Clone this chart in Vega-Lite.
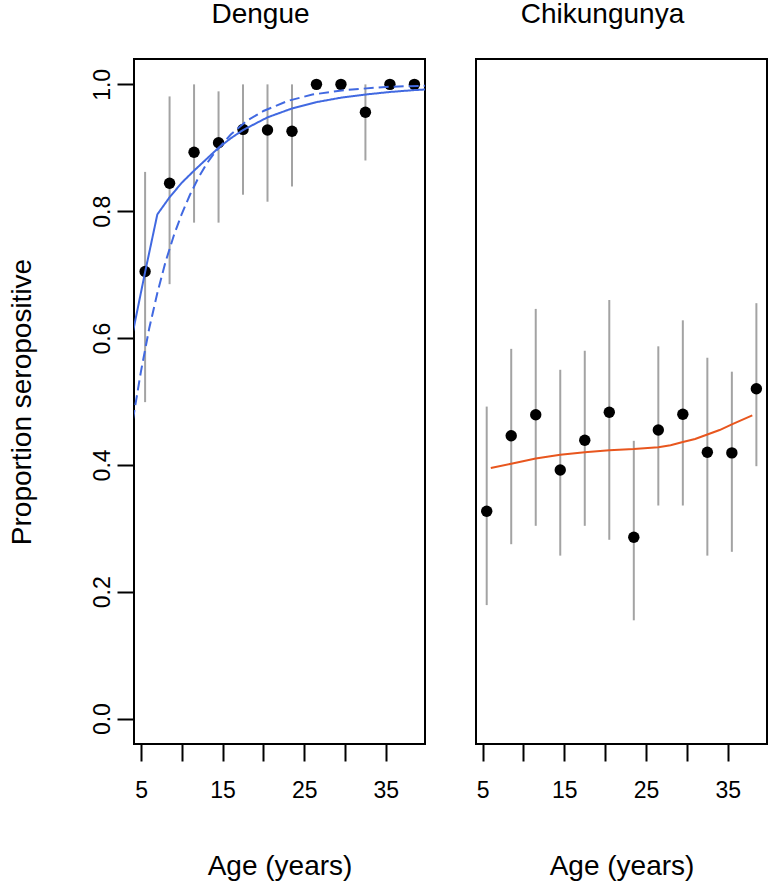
{
  "$schema": "https://vega.github.io/schema/vega-lite/v6.json",
  "padding": {"left": 7, "top": 0, "right": 0, "bottom": 2},
  "background": "white",
  "config": {
    "font": "Liberation Sans",
    "view": {"stroke": "black", "strokeWidth": 2},
    "axis": {
      "domain": false, "grid": false,
      "tickColor": "black", "tickWidth": 2, "tickSize": 17,
      "labelFont": "Liberation Sans", "labelFontSize": 23, "labelColor": "black",
      "titleFont": "Liberation Sans", "titleFontSize": 28, "titleFontWeight": "normal", "titleColor": "black"
    },
    "title": {"font": "Liberation Sans", "fontSize": 28, "fontWeight": "normal", "color": "black", "baseline": "alphabetic", "offset": 30, "dx": -19}
  },
  "spacing": 49,
  "datasets": {
    "obs": [
      {"panel": "Dengue", "age": 5.5, "p": 0.705, "lo": 0.499, "hi": 0.862},
      {"panel": "Dengue", "age": 8.5, "p": 0.844, "lo": 0.685, "hi": 0.981},
      {"panel": "Dengue", "age": 11.5, "p": 0.893, "lo": 0.782, "hi": 1.0},
      {"panel": "Dengue", "age": 14.5, "p": 0.908, "lo": 0.782, "hi": 0.989},
      {"panel": "Dengue", "age": 17.5, "p": 0.929, "lo": 0.826, "hi": 1.0},
      {"panel": "Dengue", "age": 20.5, "p": 0.928, "lo": 0.815, "hi": 1.0},
      {"panel": "Dengue", "age": 23.5, "p": 0.926, "lo": 0.839, "hi": 1.0},
      {"panel": "Dengue", "age": 26.5, "p": 1.0, "lo": null, "hi": null},
      {"panel": "Dengue", "age": 29.5, "p": 1.0, "lo": null, "hi": null},
      {"panel": "Dengue", "age": 32.5, "p": 0.956, "lo": 0.88, "hi": 1.0},
      {"panel": "Dengue", "age": 35.5, "p": 1.0, "lo": null, "hi": null},
      {"panel": "Dengue", "age": 38.5, "p": 1.0, "lo": null, "hi": null},
      {"panel": "Chikungunya", "age": 5.5, "p": 0.327, "lo": 0.179, "hi": 0.492},
      {"panel": "Chikungunya", "age": 8.5, "p": 0.446, "lo": 0.275, "hi": 0.583},
      {"panel": "Chikungunya", "age": 11.5, "p": 0.479, "lo": 0.304, "hi": 0.646},
      {"panel": "Chikungunya", "age": 14.5, "p": 0.392, "lo": 0.257, "hi": 0.55},
      {"panel": "Chikungunya", "age": 17.5, "p": 0.439, "lo": 0.304, "hi": 0.58},
      {"panel": "Chikungunya", "age": 20.5, "p": 0.483, "lo": 0.282, "hi": 0.66},
      {"panel": "Chikungunya", "age": 23.5, "p": 0.286, "lo": 0.155, "hi": 0.438},
      {"panel": "Chikungunya", "age": 26.5, "p": 0.455, "lo": 0.336, "hi": 0.587},
      {"panel": "Chikungunya", "age": 29.5, "p": 0.48, "lo": 0.336, "hi": 0.628},
      {"panel": "Chikungunya", "age": 32.5, "p": 0.42, "lo": 0.257, "hi": 0.569},
      {"panel": "Chikungunya", "age": 35.5, "p": 0.419, "lo": 0.263, "hi": 0.547},
      {"panel": "Chikungunya", "age": 38.5, "p": 0.52, "lo": 0.398, "hi": 0.655}
    ],
    "fit": [
      {"panel": "Dengue", "model": "solid", "age": 4, "y": 0.609},
      {"panel": "Dengue", "model": "solid", "age": 5.5, "y": 0.704},
      {"panel": "Dengue", "model": "solid", "age": 7, "y": 0.795},
      {"panel": "Dengue", "model": "solid", "age": 8.5, "y": 0.822},
      {"panel": "Dengue", "model": "solid", "age": 10, "y": 0.845},
      {"panel": "Dengue", "model": "solid", "age": 11.5, "y": 0.864},
      {"panel": "Dengue", "model": "solid", "age": 13, "y": 0.882},
      {"panel": "Dengue", "model": "solid", "age": 14.5, "y": 0.9},
      {"panel": "Dengue", "model": "solid", "age": 16, "y": 0.915},
      {"panel": "Dengue", "model": "solid", "age": 17.5, "y": 0.928},
      {"panel": "Dengue", "model": "solid", "age": 20.5, "y": 0.948},
      {"panel": "Dengue", "model": "solid", "age": 23.5, "y": 0.962},
      {"panel": "Dengue", "model": "solid", "age": 26.5, "y": 0.972},
      {"panel": "Dengue", "model": "solid", "age": 29.5, "y": 0.979},
      {"panel": "Dengue", "model": "solid", "age": 32.5, "y": 0.984},
      {"panel": "Dengue", "model": "solid", "age": 35.5, "y": 0.988},
      {"panel": "Dengue", "model": "solid", "age": 38.5, "y": 0.991},
      {"panel": "Dengue", "model": "solid", "age": 40, "y": 0.992},
      {"panel": "Dengue", "model": "dashed", "age": 4, "y": 0.471},
      {"panel": "Dengue", "model": "dashed", "age": 5, "y": 0.548},
      {"panel": "Dengue", "model": "dashed", "age": 6, "y": 0.615},
      {"panel": "Dengue", "model": "dashed", "age": 7, "y": 0.671},
      {"panel": "Dengue", "model": "dashed", "age": 8, "y": 0.72},
      {"panel": "Dengue", "model": "dashed", "age": 9, "y": 0.761},
      {"panel": "Dengue", "model": "dashed", "age": 10, "y": 0.796},
      {"panel": "Dengue", "model": "dashed", "age": 11, "y": 0.826},
      {"panel": "Dengue", "model": "dashed", "age": 12, "y": 0.852},
      {"panel": "Dengue", "model": "dashed", "age": 13, "y": 0.874},
      {"panel": "Dengue", "model": "dashed", "age": 14, "y": 0.892},
      {"panel": "Dengue", "model": "dashed", "age": 16, "y": 0.921},
      {"panel": "Dengue", "model": "dashed", "age": 18, "y": 0.943},
      {"panel": "Dengue", "model": "dashed", "age": 20, "y": 0.958},
      {"panel": "Dengue", "model": "dashed", "age": 23, "y": 0.974},
      {"panel": "Dengue", "model": "dashed", "age": 26, "y": 0.984},
      {"panel": "Dengue", "model": "dashed", "age": 30, "y": 0.991},
      {"panel": "Dengue", "model": "dashed", "age": 35, "y": 0.996},
      {"panel": "Dengue", "model": "dashed", "age": 40, "y": 0.998},
      {"panel": "Chikungunya", "model": "solid", "age": 6, "y": 0.395},
      {"panel": "Chikungunya", "model": "solid", "age": 8.5, "y": 0.402},
      {"panel": "Chikungunya", "model": "solid", "age": 11.5, "y": 0.41},
      {"panel": "Chikungunya", "model": "solid", "age": 14.5, "y": 0.416},
      {"panel": "Chikungunya", "model": "solid", "age": 17.5, "y": 0.42},
      {"panel": "Chikungunya", "model": "solid", "age": 20.5, "y": 0.423},
      {"panel": "Chikungunya", "model": "solid", "age": 23.5, "y": 0.425},
      {"panel": "Chikungunya", "model": "solid", "age": 26.5, "y": 0.428},
      {"panel": "Chikungunya", "model": "solid", "age": 28, "y": 0.431},
      {"panel": "Chikungunya", "model": "solid", "age": 29.5, "y": 0.436},
      {"panel": "Chikungunya", "model": "solid", "age": 31, "y": 0.441},
      {"panel": "Chikungunya", "model": "solid", "age": 32.5, "y": 0.448},
      {"panel": "Chikungunya", "model": "solid", "age": 34, "y": 0.455},
      {"panel": "Chikungunya", "model": "solid", "age": 35.5, "y": 0.464},
      {"panel": "Chikungunya", "model": "solid", "age": 38, "y": 0.478}
    ]
  },
  "hconcat": [
    {
      "title": "Dengue",
      "width": 291,
      "height": 685,
      "layer": [
        {
          "data": {"name": "obs"},
          "transform": [{"filter": "datum.panel == 'Dengue' && isValid(datum.lo)"}],
          "mark": {"type": "rule", "color": "#A3A3A3", "strokeWidth": 2},
          "encoding": {
            "x": {"field": "age", "type": "quantitative", "scale": {"domain": [4.14, 39.8], "nice": false, "zero": false},
              "axis": {"title": "Age (years)", "values": [5, 10, 15, 20, 25, 30, 35], "labelExpr": "datum.value % 10 == 5 ? datum.label : ''", "labelOverlap": false, "labelFlush": false, "labelPadding": 18, "titlePadding": 50}},
            "y": {"field": "lo", "type": "quantitative", "scale": {"domain": [-0.04, 1.04], "nice": false, "zero": false},
              "axis": {"title": "Proportion seropositive", "values": [0, 0.2, 0.4, 0.6, 0.8, 1.0], "format": ".1f", "labelAngle": -90, "labelAlign": "center", "labelBaseline": "alphabetic", "labelPadding": 8, "titlePadding": 55}},
            "y2": {"field": "hi"}
          }
        },
        {
          "data": {"name": "obs"},
          "transform": [{"filter": "datum.panel == 'Dengue'"}],
          "mark": {"type": "point", "filled": true, "shape": "circle", "color": "black", "opacity": 1, "size": 130},
          "encoding": {
            "x": {"field": "age", "type": "quantitative"},
            "y": {"field": "p", "type": "quantitative"}
          }
        },
        {
          "data": {"name": "fit"},
          "transform": [{"filter": "datum.panel == 'Dengue'"}],
          "mark": {"type": "line", "color": "#4169E1", "strokeWidth": 2, "clip": true},
          "encoding": {
            "x": {"field": "age", "type": "quantitative"},
            "y": {"field": "y", "type": "quantitative"},
            "strokeDash": {"field": "model", "type": "nominal", "scale": {"domain": ["solid", "dashed"], "range": [[1, 0], [10, 5]]}, "legend": null}
          }
        }
      ]
    },
    {
      "title": "Chikungunya",
      "width": 291,
      "height": 685,
      "layer": [
        {
          "data": {"name": "obs"},
          "transform": [{"filter": "datum.panel == 'Chikungunya' && isValid(datum.lo)"}],
          "mark": {"type": "rule", "color": "#A3A3A3", "strokeWidth": 2},
          "encoding": {
            "x": {"field": "age", "type": "quantitative", "scale": {"domain": [4.19, 39.8], "nice": false, "zero": false},
              "axis": {"title": "Age (years)", "values": [5, 10, 15, 20, 25, 30, 35], "labelExpr": "datum.value % 10 == 5 ? datum.label : ''", "labelOverlap": false, "labelFlush": false, "labelPadding": 18, "titlePadding": 50}},
            "y": {"field": "lo", "type": "quantitative", "scale": {"domain": [-0.04, 1.04], "nice": false, "zero": false}, "axis": null},
            "y2": {"field": "hi"}
          }
        },
        {
          "data": {"name": "obs"},
          "transform": [{"filter": "datum.panel == 'Chikungunya'"}],
          "mark": {"type": "point", "filled": true, "shape": "circle", "color": "black", "opacity": 1, "size": 130},
          "encoding": {
            "x": {"field": "age", "type": "quantitative"},
            "y": {"field": "p", "type": "quantitative"}
          }
        },
        {
          "data": {"name": "fit"},
          "transform": [{"filter": "datum.panel == 'Chikungunya'"}],
          "mark": {"type": "line", "color": "#E8561E", "strokeWidth": 2, "clip": true},
          "encoding": {
            "x": {"field": "age", "type": "quantitative"},
            "y": {"field": "y", "type": "quantitative"}
          }
        }
      ]
    }
  ]
}
